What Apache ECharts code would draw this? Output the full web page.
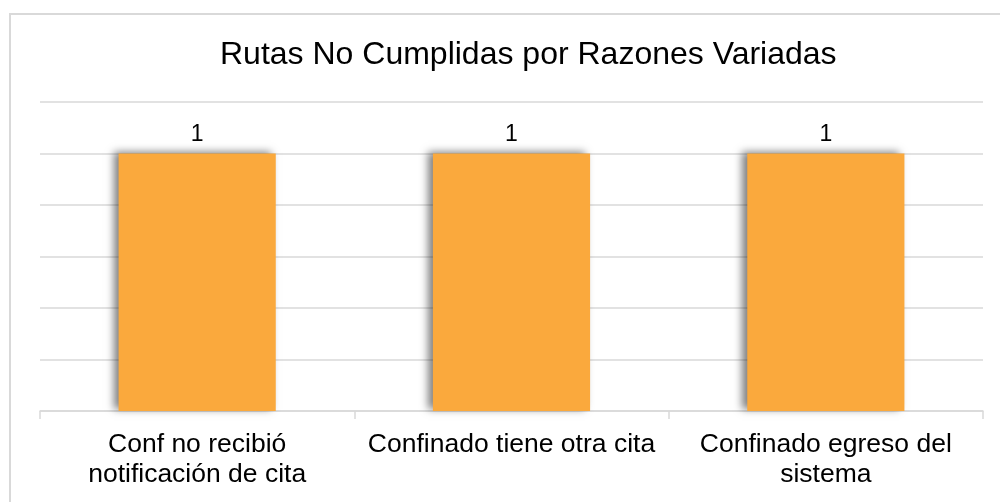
<!DOCTYPE html>
<html>
<head>
<meta charset="utf-8">
<script src="https://cdn.jsdelivr.net/npm/echarts@6/dist/echarts.min.js"></script>
<style>
  html, body { margin: 0; padding: 0; background: #fff; }
  #chart { width: 1000px; height: 502px; }
</style>
</head>
<body>
<div id="chart"></div>
<script>
// chart data
const chartTitle = 'Rutas No Cumplidas por Razones Variadas';
const categories = ['Conf no recibió\nnotificación de cita', 'Confinado tiene otra cita', 'Confinado egreso del\nsistema'];
const values = [1, 1, 1];

const myChart = echarts.init(document.getElementById('chart'));

const option = {
    backgroundColor: '#fff',
    animation: false,
    textStyle: { fontFamily: 'Liberation Sans, Arial, sans-serif' },
    graphic: [
        {
            type: 'rect',
            shape: { x: 10, y: 14, width: 1000, height: 500 },
            style: { fill: 'none', stroke: '#d9d9d9', lineWidth: 2 },
            silent: true
        }
    ],
    title: {
        text: chartTitle,
        left: 220,
        top: 39,
        padding: 0,
        textStyle: { fontSize: 32, fontWeight: 'normal', color: '#000' }
    },
    grid: { left: 40, right: 17, top: 102, bottom: 91 },
    xAxis: {
        type: 'category',
        data: categories,
        axisLine: { lineStyle: { color: '#d9d9d9', width: 1.5 } },
        axisTick: { show: true, length: 8, lineStyle: { color: '#d9d9d9', width: 1.5 } },
        axisLabel: { color: '#000', fontSize: 26.5, lineHeight: 30, margin: 19, interval: 0 }
    },
    yAxis: {
        type: 'value',
        min: 0,
        max: 1.2,
        interval: 0.2,
        axisLabel: { show: false },
        axisLine: { show: false },
        axisTick: { show: false },
        splitLine: { lineStyle: { color: '#d9d9d9', width: 1.5 } }
    },
    series: [
        {
            type: 'bar',
            data: values,
            barWidth: '50%',
            itemStyle: {
                color: '#FAA93D',
                shadowColor: 'rgba(0,0,0,0.5)',
                shadowBlur: 8,
                shadowOffsetX: -5,
                shadowOffsetY: -2
            },
            label: {
                show: true,
                position: 'top',
                distance: 7,
                color: '#000',
                fontSize: 23
            }
        }
    ]
};

myChart.setOption(option);
</script>
</body>
</html>
